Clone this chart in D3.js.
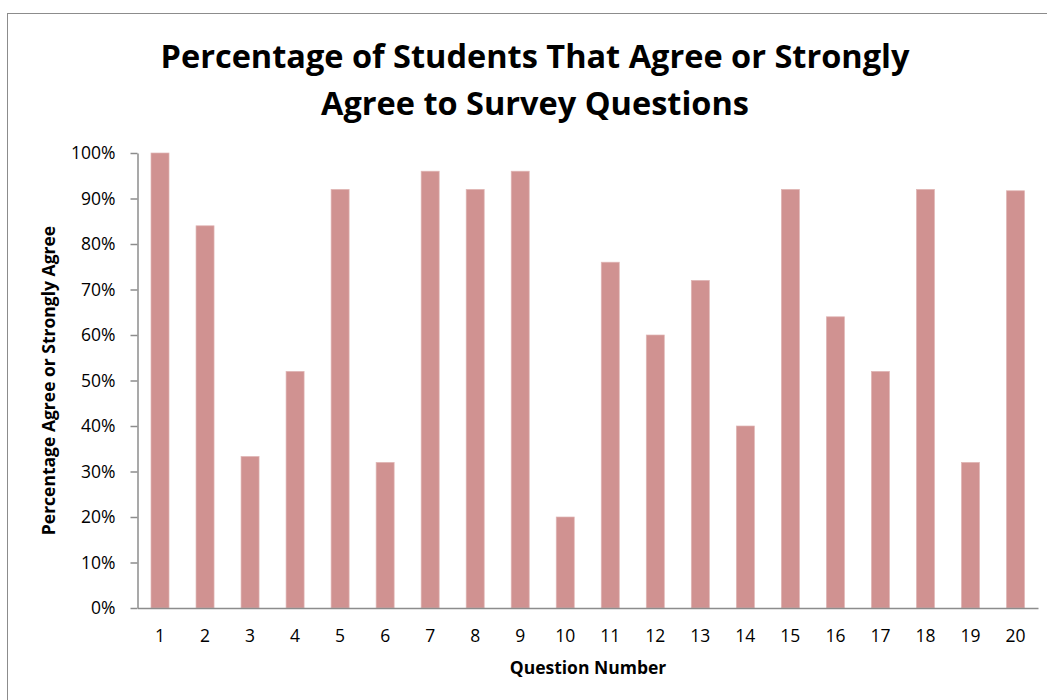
<!DOCTYPE html>
<html>
<head>
<meta charset="utf-8">
<script src="https://cdn.jsdelivr.net/npm/d3@7"></script>
<style>
  body { margin: 0; background: #fff; }
  svg { display: block; }
</style>
</head>
<body>
<div id="chart"></div>
<script>
// data
var questions = ["1","2","3","4","5","6","7","8","9","10","11","12","13","14","15","16","17","18","19","20"];
var agreePct = [100, 84, 33.3, 52, 92, 32, 96, 92, 96, 20, 76, 60, 72, 40, 92, 64, 52, 92, 32, 91.7];
var yTicks = [0, 10, 20, 30, 40, 50, 60, 70, 80, 90, 100];

var width = 1047, height = 700;
var margin = { top: 153, right: 9, bottom: 92, left: 137.5 };
var font = "'Open Sans', 'Noto Sans', sans-serif";

var svg = d3.select("#chart").append("svg")
    .attr("width", width)
    .attr("height", height);

// outer chart frame (runs off the right and bottom edges)
svg.append("rect")
    .attr("x", 7.5).attr("y", 13.5)
    .attr("width", width).attr("height", height)
    .attr("fill", "#fff")
    .attr("stroke", "#8c8c8c")
    .attr("stroke-width", 1);

// title
var title = svg.append("text")
    .attr("text-anchor", "middle")
    .attr("font-family", font)
    .attr("font-weight", "bold")
    .attr("font-size", "32.5px")
    .attr("fill", "#000");
title.append("tspan").attr("x", 535).attr("y", 68).text("Percentage of Students That Agree or Strongly");
title.append("tspan").attr("x", 535).attr("y", 115).text("Agree to Survey Questions");

var x = d3.scaleBand()
    .domain(questions)
    .range([margin.left, width - margin.right])
    .paddingInner(0.6)
    .paddingOuter(0.3);

var y = d3.scaleLinear()
    .domain([0, 100])
    .range([height - margin.bottom, margin.top]);

// bars
svg.append("g")
    .selectAll("rect")
    .data(agreePct)
    .enter()
    .append("rect")
    .attr("x", function(d, i) { return x(questions[i]); })
    .attr("y", function(d) { return y(d); })
    .attr("width", x.bandwidth())
    .attr("height", function(d) { return y(0) - y(d); })
    .attr("fill", "#d09291")
    .attr("stroke", "#e0b6b5")
    .attr("stroke-width", 0.7);

// y axis
var yAxis = svg.append("g")
    .attr("transform", "translate(" + margin.left + ",0)")
    .call(d3.axisLeft(y)
        .tickValues(yTicks)
        .tickSize(7)
        .tickSizeOuter(0)
        .tickPadding(15)
        .tickFormat(function(d) { return d + "%"; }));
yAxis.select(".domain").attr("stroke", "#8c8c8c").attr("stroke-width", 1.5);
yAxis.selectAll(".tick line").attr("stroke", "#8c8c8c").attr("stroke-width", 1.5);
yAxis.selectAll(".tick text")
    .attr("font-family", font)
    .attr("font-size", "17.5px")
    .attr("fill", "#000");

// x axis, no tick marks
var xAxis = svg.append("g")
    .attr("transform", "translate(0," + y(0) + ")")
    .call(d3.axisBottom(x).tickSize(0).tickSizeOuter(0).tickPadding(22));
xAxis.select(".domain").attr("stroke", "#8c8c8c").attr("stroke-width", 1.5);
xAxis.selectAll(".tick text")
    .attr("font-family", font)
    .attr("font-size", "17.5px")
    .attr("fill", "#000");

// axis titles
svg.append("text")
    .attr("x", 588)
    .attr("y", 674)
    .attr("text-anchor", "middle")
    .attr("font-family", font)
    .attr("font-weight", "bold")
    .attr("font-size", "17.5px")
    .text("Question Number");

svg.append("text")
    .attr("transform", "translate(55," + y(50) + ") rotate(-90)")
    .attr("text-anchor", "middle")
    .attr("font-family", font)
    .attr("font-weight", "bold")
    .attr("font-size", "17.5px")
    .text("Percentage Agree or Strongly Agree");
</script>
</body>
</html>
